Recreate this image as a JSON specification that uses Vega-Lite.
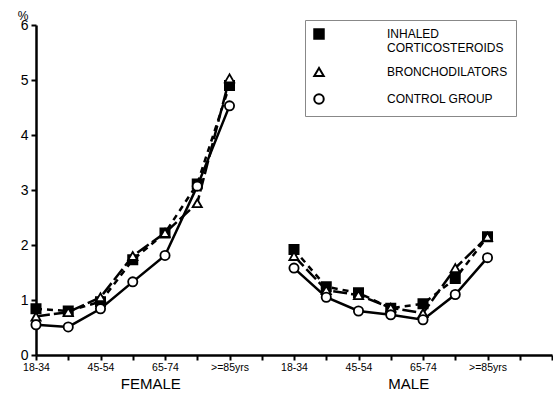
{
  "$schema": "https://vega.github.io/schema/vega-lite/v6.json",
  "width": 516,
  "height": 330,
  "autosize": {"type": "none"},
  "padding": {"left": 36, "top": 25, "right": 1, "bottom": 38},
  "background": "white",
  "config": {
    "font": "Liberation Sans",
    "view": {"stroke": null},
    "axis": {"domainColor": "black", "tickColor": "black", "labelColor": "black", "titleColor": "black", "grid": false, "domainWidth": 2.5, "tickWidth": 2, "labelFont": "Liberation Sans", "titleFont": "Liberation Sans"},
    "legend": {"labelFont": "Liberation Sans", "labelFontSize": 12, "labelColor": "black"}
  },
  "datasets": {
    "main": [
    {"sex": "FEMALE", "age": "F18-34", "series": "INHALED CORTICOSTEROIDS", "value": 0.84},
    {"sex": "FEMALE", "age": "F35-44", "series": "INHALED CORTICOSTEROIDS", "value": 0.80},
    {"sex": "FEMALE", "age": "F45-54", "series": "INHALED CORTICOSTEROIDS", "value": 0.97},
    {"sex": "FEMALE", "age": "F55-64", "series": "INHALED CORTICOSTEROIDS", "value": 1.73},
    {"sex": "FEMALE", "age": "F65-74", "series": "INHALED CORTICOSTEROIDS", "value": 2.22},
    {"sex": "FEMALE", "age": "F75-84", "series": "INHALED CORTICOSTEROIDS", "value": 3.11},
    {"sex": "FEMALE", "age": "F85+", "series": "INHALED CORTICOSTEROIDS", "value": 4.90},
    {"sex": "MALE", "age": "M18-34", "series": "INHALED CORTICOSTEROIDS", "value": 1.92},
    {"sex": "MALE", "age": "M35-44", "series": "INHALED CORTICOSTEROIDS", "value": 1.24},
    {"sex": "MALE", "age": "M45-54", "series": "INHALED CORTICOSTEROIDS", "value": 1.13},
    {"sex": "MALE", "age": "M55-64", "series": "INHALED CORTICOSTEROIDS", "value": 0.85},
    {"sex": "MALE", "age": "M65-74", "series": "INHALED CORTICOSTEROIDS", "value": 0.93},
    {"sex": "MALE", "age": "M75-84", "series": "INHALED CORTICOSTEROIDS", "value": 1.39},
    {"sex": "MALE", "age": "M85+", "series": "INHALED CORTICOSTEROIDS", "value": 2.15},
    {"sex": "FEMALE", "age": "F18-34", "series": "BRONCHODILATORS", "value": 0.70},
    {"sex": "FEMALE", "age": "F35-44", "series": "BRONCHODILATORS", "value": 0.78},
    {"sex": "FEMALE", "age": "F45-54", "series": "BRONCHODILATORS", "value": 1.05},
    {"sex": "FEMALE", "age": "F55-64", "series": "BRONCHODILATORS", "value": 1.80},
    {"sex": "FEMALE", "age": "F65-74", "series": "BRONCHODILATORS", "value": 2.22},
    {"sex": "FEMALE", "age": "F75-84", "series": "BRONCHODILATORS", "value": 2.76},
    {"sex": "FEMALE", "age": "F85+", "series": "BRONCHODILATORS", "value": 5.03},
    {"sex": "MALE", "age": "M18-34", "series": "BRONCHODILATORS", "value": 1.80},
    {"sex": "MALE", "age": "M35-44", "series": "BRONCHODILATORS", "value": 1.18},
    {"sex": "MALE", "age": "M45-54", "series": "BRONCHODILATORS", "value": 1.09},
    {"sex": "MALE", "age": "M55-64", "series": "BRONCHODILATORS", "value": 0.86},
    {"sex": "MALE", "age": "M65-74", "series": "BRONCHODILATORS", "value": 0.76},
    {"sex": "MALE", "age": "M75-84", "series": "BRONCHODILATORS", "value": 1.58},
    {"sex": "MALE", "age": "M85+", "series": "BRONCHODILATORS", "value": 2.15},
    {"sex": "FEMALE", "age": "F18-34", "series": "CONTROL GROUP", "value": 0.55},
    {"sex": "FEMALE", "age": "F35-44", "series": "CONTROL GROUP", "value": 0.51},
    {"sex": "FEMALE", "age": "F45-54", "series": "CONTROL GROUP", "value": 0.84},
    {"sex": "FEMALE", "age": "F55-64", "series": "CONTROL GROUP", "value": 1.33},
    {"sex": "FEMALE", "age": "F65-74", "series": "CONTROL GROUP", "value": 1.81},
    {"sex": "FEMALE", "age": "F75-84", "series": "CONTROL GROUP", "value": 3.07},
    {"sex": "FEMALE", "age": "F85+", "series": "CONTROL GROUP", "value": 4.53},
    {"sex": "MALE", "age": "M18-34", "series": "CONTROL GROUP", "value": 1.58},
    {"sex": "MALE", "age": "M35-44", "series": "CONTROL GROUP", "value": 1.05},
    {"sex": "MALE", "age": "M45-54", "series": "CONTROL GROUP", "value": 0.80},
    {"sex": "MALE", "age": "M55-64", "series": "CONTROL GROUP", "value": 0.73},
    {"sex": "MALE", "age": "M65-74", "series": "CONTROL GROUP", "value": 0.64},
    {"sex": "MALE", "age": "M75-84", "series": "CONTROL GROUP", "value": 1.10},
    {"sex": "MALE", "age": "M85+", "series": "CONTROL GROUP", "value": 1.77}
    ],
    "groups": [{"label": "FEMALE", "age": "F55-64", "pos": -0.53}, {"label": "MALE", "age": "M55-64", "pos": -0.53}]
  },
  "layer": [
    {
      "data": {"name": "groups"},
      "mark": {"type": "text", "font": "Liberation Sans", "fontSize": 15, "fill": "black", "baseline": "middle", "align": "center", "dx": 18},
      "encoding": {
        "x": {"field": "age", "type": "ordinal", "scale": {"type": "point", "padding": 0, "domain": ["F18-34", "F35-44", "F45-54", "F55-64", "F65-74", "F75-84", "F85+", "gap", "M18-34", "M35-44", "M45-54", "M55-64", "M65-74", "M75-84", "M85+", "e1", "e2"]},
          "axis": {"title": null, "labelAngle": 0, "labelFontSize": 10.5, "tickSize": 5, "labelPadding": 2,
            "labelExpr": "slice(datum.value,1)=='18-34'?'18-34':slice(datum.value,1)=='45-54'?'45-54':slice(datum.value,1)=='65-74'?'65-74':slice(datum.value,1)=='85+'?'>=85yrs':''"}},
        "y": {"field": "pos", "type": "quantitative", "scale": {"domain": [0, 6], "nice": false},
          "axis": {"values": [0, 1, 2, 3, 4, 5, 6], "format": "d", "title": "%", "titleAngle": 0, "titleAlign": "center", "titleBaseline": "middle", "titleX": -13.5, "titleY": -10, "titleFontSize": 12, "titleFontWeight": "normal", "labelFontSize": 14, "tickSize": 5, "labelPadding": 3}},
        "text": {"field": "label", "type": "nominal"}
      }
    },
    {
      "data": {"name": "main"},
      "transform": [{"filter": "datum.series=='INHALED CORTICOSTEROIDS'"}],
      "mark": {"type": "line", "stroke": "black", "strokeWidth": 2.5, "strokeDash": [6, 5]},
      "encoding": {
        "x": {"field": "age", "type": "ordinal"},
        "y": {"field": "value", "type": "quantitative"},
        "detail": {"field": "sex", "type": "nominal"}
      }
    },
    {
      "data": {"name": "main"},
      "transform": [{"filter": "datum.series=='BRONCHODILATORS'"}],
      "mark": {"type": "line", "stroke": "black", "strokeWidth": 2.5, "strokeDash": [14, 4]},
      "encoding": {
        "x": {"field": "age", "type": "ordinal"},
        "y": {"field": "value", "type": "quantitative"},
        "detail": {"field": "sex", "type": "nominal"}
      }
    },
    {
      "data": {"name": "main"},
      "transform": [{"filter": "datum.series=='CONTROL GROUP'"}],
      "mark": {"type": "line", "stroke": "black", "strokeWidth": 2.5},
      "encoding": {
        "x": {"field": "age", "type": "ordinal"},
        "y": {"field": "value", "type": "quantitative"},
        "detail": {"field": "sex", "type": "nominal"}
      }
    },
    {
      "data": {"name": "main"},
      "mark": {"type": "point", "filled": true, "stroke": "black", "strokeWidth": 1.8, "size": 85, "opacity": 1},
      "encoding": {
        "x": {"field": "age", "type": "ordinal"},
        "y": {"field": "value", "type": "quantitative"},
        "shape": {"field": "series", "type": "nominal", "title": null, "scale": {"domain": ["INHALED CORTICOSTEROIDS", "BRONCHODILATORS", "CONTROL GROUP"], "range": ["square", "triangle-up", "circle"]},
          "legend": {"orient": "none", "legendX": 269, "legendY": -5, "padding": 8, "strokeColor": "#888", "symbolSize": 90, "symbolStrokeWidth": 2, "labelOffset": 62, "rowPadding": 9,
            "labelExpr": "datum.label=='INHALED CORTICOSTEROIDS'?['INHALED','CORTICOSTEROIDS']:datum.label"}},
        "fill": {"field": "series", "type": "nominal", "title": null, "scale": {"domain": ["INHALED CORTICOSTEROIDS", "BRONCHODILATORS", "CONTROL GROUP"], "range": ["black", "white", "white"]},
          "legend": {"orient": "none", "legendX": 269, "legendY": -5, "padding": 8, "strokeColor": "#888", "symbolSize": 90, "symbolStrokeWidth": 2, "labelOffset": 62, "rowPadding": 9,
            "labelExpr": "datum.label=='INHALED CORTICOSTEROIDS'?['INHALED','CORTICOSTEROIDS']:datum.label"}}
      }
    }
  ]
}
